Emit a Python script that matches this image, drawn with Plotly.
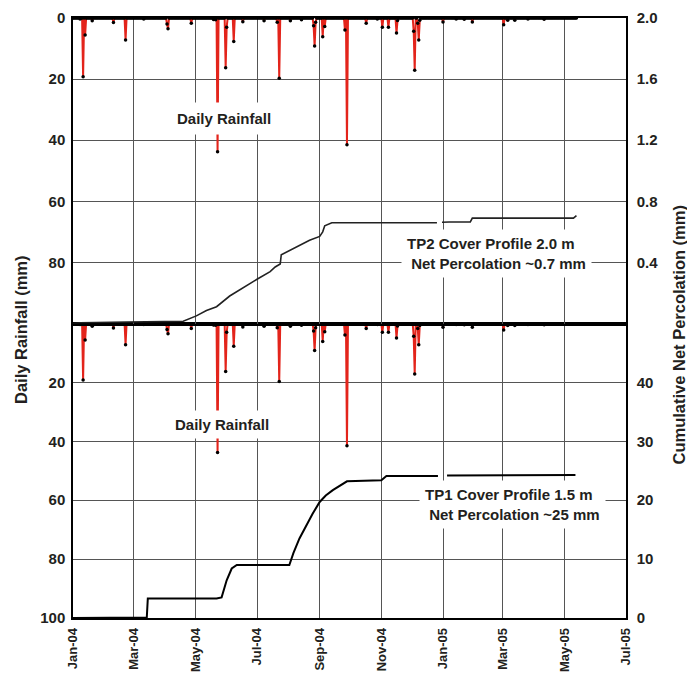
import plotly.graph_objects as go
import pandas as pd

# ---------------- data ----------------
rain_dates = [
    "2004-01-08", "2004-01-11", "2004-01-13", "2004-01-20", "2004-02-10", "2004-02-22",
    "2004-03-11", "2004-04-03", "2004-04-04", "2004-04-27", "2004-05-19", "2004-05-21",
    "2004-05-23", "2004-05-31", "2004-06-01", "2004-06-08", "2004-06-17", "2004-07-08",
    "2004-07-21", "2004-07-23", "2004-08-03", "2004-08-14", "2004-08-26", "2004-08-27",
    "2004-08-28", "2004-09-04", "2004-09-06", "2004-09-26", "2004-09-28", "2004-10-17",
    "2004-10-28", "2004-11-02", "2004-11-08", "2004-11-16", "2004-11-17", "2004-12-03",
    "2004-12-04", "2004-12-07", "2004-12-08", "2004-12-09", "2005-01-01", "2005-01-14",
    "2005-01-22", "2005-01-30", "2005-03-02", "2005-03-06", "2005-03-13", "2005-03-26",
    "2005-04-11",
]
rain_mm = [
    0.3, 19.2, 5.6, 0.9, 1.5, 7.2,
    0.3, 2.0, 3.5, 1.7, 0.5, 0.6,
    43.8, 16.3, 3.0, 7.7, 1.2, 0.9,
    1.4, 19.7, 0.9, 0.6, 2.5, 9.2,
    1.4, 6.1, 2.8, 3.9, 41.5, 1.7,
    0.3, 3.0, 3.0, 4.9, 0.8, 4.3,
    17.1, 1.7, 7.2, 0.7, 1.3, 0.3,
    0.4, 1.3, 2.2, 0.7, 0.7, 0.3,
    0.4,
]
rain_start = "2004-01-01"
rain_end = "2005-05-13"

tp2_dates = [
    "2004-01-01", "2004-01-08", "2004-02-24", "2004-04-06", "2004-04-19", "2004-05-02",
    "2004-05-12", "2004-05-22", "2004-06-04", "2004-07-01", "2004-07-14", "2004-07-19",
    "2004-07-24", "2004-07-25", "2004-08-06", "2004-08-22", "2004-09-01", "2004-09-04",
    "2004-09-06", "2004-09-13", "2004-12-26", "2004-12-28", "2004-12-31", "2005-01-07",
    "2005-01-28", "2005-01-30", "2005-05-10", "2005-05-13",
]
tp2_perc = [
    0.0, 0.005, 0.01, 0.015, 0.015, 0.05,
    0.085, 0.11, 0.18, 0.29, 0.34, 0.37,
    0.39, 0.45, 0.49, 0.545, 0.57, 0.60,
    0.64, 0.66, 0.66, None, 0.663, 0.665,
    0.665, 0.69, 0.69, 0.706,
]

tp1_dates = [
    "2004-01-01", "2004-02-29", "2004-03-07", "2004-03-14", "2004-03-15", "2004-05-22",
    "2004-05-27", "2004-06-01", "2004-06-06", "2004-06-11", "2004-08-02", "2004-08-06",
    "2004-08-12", "2004-08-19", "2004-08-25", "2004-09-01", "2004-09-07", "2004-09-14",
    "2004-09-28", "2004-11-01", "2004-11-06", "2004-12-27", "2004-12-30", "2005-01-05",
    "2005-05-12",
]
tp1_perc = [
    0.0, 0.0, 0.1, 0.1, 3.3, 3.3,
    3.5, 6.4, 8.4, 9.0, 9.0, 11.0,
    13.5, 15.8, 17.7, 19.7, 20.8, 21.7,
    23.2, 23.4, 24.1, 24.1, None, 24.2,
    24.3,
]

x_tick_dates = ["2004-01-01", "2004-03-01", "2004-05-01", "2004-07-01", "2004-09-01",
                "2004-11-01", "2005-01-01", "2005-03-01", "2005-05-01", "2005-07-01"]
x_tick_labels = ["Jan-04", "Mar-04", "May-04", "Jul-04", "Sep-04",
                 "Nov-04", "Jan-05", "Mar-05", "May-05", "Jul-05"]

rain_top_ticks = [0, 20, 40, 60, 80]
rain_bot_ticks = [20, 40, 60, 80, 100]
tp2_ticks = [0.4, 0.8, 1.2, 1.6, 2.0]
tp2_tick_labels = ["0.4", "0.8", "1.2", "1.6", "2.0"]
tp1_ticks = [0, 10, 20, 30, 40]

# ---------------- build daily rainfall ----------------
days = pd.date_range(rain_start, rain_end, freq="D")
rain = pd.Series(0.0, index=days)
rain.loc[pd.to_datetime(rain_dates)] = rain_mm

FONT = "Liberation Sans, Arial, sans-serif"
TXT = "#231f20"
RED = "#e3241b"
GRID = "#555555"
SPLIT = 0.4908

fig = go.Figure()

rain_style = dict(mode="lines+markers", line=dict(color=RED, width=2),
                  marker=dict(color="black", size=3.5), showlegend=False,
                  hoverinfo="skip")

fig.add_trace(go.Scatter(x=rain.index, y=rain.values, xaxis="x2", yaxis="y", **rain_style))
fig.add_trace(go.Scatter(x=pd.to_datetime(tp2_dates), y=tp2_perc, xaxis="x2", yaxis="y2",
                         mode="lines", line=dict(color="#222222", width=1.6),
                         connectgaps=False, showlegend=False))
fig.add_trace(go.Scatter(x=rain.index, y=rain.values, xaxis="x", yaxis="y3", **rain_style))
fig.add_trace(go.Scatter(x=pd.to_datetime(tp1_dates), y=tp1_perc, xaxis="x", yaxis="y4",
                         mode="lines", line=dict(color="black", width=2),
                         connectgaps=False, showlegend=False))

xcommon = dict(type="date", range=["2004-01-01", "2005-07-01"],
               tickvals=x_tick_dates, ticktext=x_tick_labels, automargin=False,
               showgrid=True, gridcolor=GRID, gridwidth=1,
               showline=True, linecolor="black", linewidth=1.5, mirror=True,
               ticks="", zeroline=False)
ycommon = dict(showline=True, linecolor="black", linewidth=1.5, zeroline=False, ticks="",
               automargin=False,
               tickfont=dict(size=15, color=TXT, family=FONT, weight="bold"))

# the page body has an 8px margin, so the figure is 8px smaller and shifted
fig.update_layout(
    template="none",
    width=687, height=665,
    margin=dict(l=65, r=69, t=10, b=55, autoexpand=False),
    paper_bgcolor="white", plot_bgcolor="white",
    font=dict(family=FONT, color=TXT, weight="bold"),
    xaxis=dict(domain=[0, 1], anchor="y3", tickangle=-90, ticklabelstandoff=3,
               tickfont=dict(size=13, color=TXT, family=FONT, weight="bold"), **xcommon),
    xaxis2=dict(domain=[0, 1], anchor="y", matches="x", showticklabels=False, **xcommon),
    yaxis=dict(domain=[SPLIT, 1], anchor="x2", range=[100, 0], tickvals=rain_top_ticks,
               ticklabelstandoff=3,
               showgrid=True, gridcolor=GRID, gridwidth=1, **ycommon),
    yaxis2=dict(overlaying="y", side="right", anchor="x2", range=[0, 2.0],
                ticklabelstandoff=6,
                tickvals=tp2_ticks, ticktext=tp2_tick_labels, showgrid=False, **ycommon),
    yaxis3=dict(domain=[0, SPLIT], anchor="x", range=[100, 0], tickvals=rain_bot_ticks,
                ticklabelstandoff=3,
                showgrid=True, gridcolor=GRID, gridwidth=1, **ycommon),
    yaxis4=dict(overlaying="y3", side="right", anchor="x", range=[0, 50],
                ticklabelstandoff=6,
                tickvals=tp1_ticks, showgrid=False, **ycommon),
)

ann_font = dict(size=15, color=TXT, family=FONT, weight="bold")
ann_common = dict(xref="paper", yref="paper", showarrow=False,
                  xanchor="center", yanchor="middle")
fig.add_annotation(x=0.273, y=0.8333, text="Daily Rainfall",
                   bgcolor="white", borderpad=7, font=ann_font, **ann_common)
fig.add_annotation(x=0.2694, y=0.3217, text="Daily Rainfall",
                   bgcolor="white", borderpad=5, font=ann_font, **ann_common)
fig.add_annotation(x=0.7667, y=0.6067,
                   text="TP2 Cover Profile 2.0 m<br> Net Percolation ~0.7 mm", align="left",
                   bgcolor="white", borderpad=5, font=ann_font, **ann_common)
fig.add_annotation(x=0.7939, y=0.19,
                   text="TP1 Cover Profile 1.5 m<br> Net Percolation ~25 mm", align="left",
                   bgcolor="white", borderpad=5, font=ann_font, **ann_common)
fig.add_annotation(x=-0.094, y=0.48, text="Daily Rainfall (mm)", textangle=-90,
                   font=dict(size=16.5, color=TXT, family=FONT, weight="bold"), **ann_common)
fig.add_annotation(x=1.095, y=0.4717, text="Cumulative Net Percolation (mm)", textangle=-90,
                   font=dict(size=16.5, color=TXT, family=FONT, weight="bold"), **ann_common)

fig.write_html("out.html")
